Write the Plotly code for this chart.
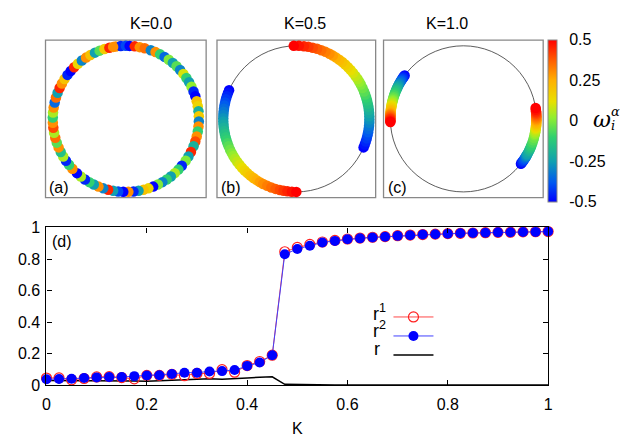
import plotly.graph_objects as go

# ---------------- data ----------------
K = [0.0, 0.025, 0.05, 0.075, 0.1, 0.125, 0.15, 0.175, 0.2, 0.225, 0.25, 0.275, 0.3, 0.325,
     0.35, 0.375, 0.4, 0.425, 0.45, 0.475, 0.5, 0.525, 0.55, 0.575, 0.6, 0.625, 0.65, 0.675,
     0.7, 0.725, 0.75, 0.775, 0.8, 0.825, 0.85, 0.875, 0.9, 0.925, 0.95, 0.975, 1.0]
r1 = [0.045, 0.046, 0.034, 0.042, 0.052, 0.054, 0.048, 0.040, 0.062, 0.062, 0.068, 0.060, 0.074,
      0.074, 0.098, 0.082, 0.124, 0.150, 0.190, 0.846, 0.874, 0.893, 0.908, 0.918, 0.927, 0.933,
      0.938, 0.942, 0.948, 0.952, 0.955, 0.958, 0.961, 0.963, 0.965, 0.967, 0.969, 0.970, 0.972,
      0.973, 0.974]
r2 = [0.037, 0.039, 0.041, 0.045, 0.049, 0.051, 0.051, 0.057, 0.061, 0.063, 0.071, 0.079, 0.079,
      0.087, 0.089, 0.096, 0.122, 0.144, 0.189, 0.830, 0.864, 0.884, 0.905, 0.915, 0.925, 0.931,
      0.937, 0.941, 0.947, 0.951, 0.955, 0.957, 0.961, 0.963, 0.965, 0.967, 0.969, 0.970, 0.971,
      0.972, 0.974]
r_tot = [0.030, 0.030, 0.030, 0.030, 0.030, 0.029, 0.028, 0.026, 0.024, 0.028, 0.032, 0.035, 0.038,
         0.040, 0.038, 0.040, 0.045, 0.050, 0.053, 0.005, 0.003, 0.002, 0.002, 0.001, 0.001, 0.001,
         0.001, 0.001, 0.001, 0.001, 0.001, 0.001, 0.001, 0.001, 0.001, 0.001, 0.001, 0.001, 0.001,
         0.001, 0.001]

# panel (a): K=0.0, phases (deg) and natural frequencies
phase_a = [98, 94, 90, 87, 83, 79, 75, 70, 66, 62, 58, 54, 50, 46, 42, 38, 34, 30, 26, 22, 18, 14,
           10, 6, 2, -2, -6, -10, -14, -18, -22, -27, -31, -35, -40, -44, -48, -52, -56, -60, -64,
           -68, -72, -76, -80, -84, -88, -92, -96, -100, -104, -108, -112, -116, -120, -124, -128,
           -132, -137, -141, -145, -149, -153, -157, -161, -165, -169, -173, -177, 179, 175, 171,
           167, 163, 159, 155, 151, 147, 143, 139, 135, 131, 127, 123, 119, 115, 111, 107, 103, 100]
omega_a = [0.3, -0.45, -0.4, -0.5, 0.45, 0.3, 0.35, -0.3, 0.3, -0.1, -0.35, 0.0, -0.25, -0.05, -0.3,
           0.1, -0.1, -0.25, 0.02, -0.45, -0.5, 0.2, 0.15, -0.2, 0.18, -0.3, 0.3, -0.1, 0.3, 0.4,
           -0.2, 0.45, -0.25, 0.0, -0.45, -0.1, 0.05, -0.25, -0.1, -0.3, 0.0, -0.5, 0.15, 0.2, -0.25,
           -0.45, 0.3, -0.5, -0.4, -0.25, 0.45, -0.3, 0.3, -0.25, -0.1, -0.45, 0.05, -0.5, 0.3, -0.1,
           -0.45, 0.05, -0.15, 0.3, -0.05, 0.35, 0.05, 0.4, 0.3, -0.1, 0.05, 0.3, -0.35, 0.35, -0.25,
           0.45, 0.3, 0.2, -0.45, -0.5, 0.45, 0.15, -0.3, 0.3, 0.2, -0.25, -0.05, 0.18, 0.45, 0.3]

# panels (b), (c): locked populations (natural frequency -> phase on circle, deg)
omega_lock = [-0.5, -0.475, -0.45, -0.425, -0.4, -0.375, -0.35, -0.325, -0.3, -0.275, -0.25,
              -0.225, -0.2, -0.175, -0.15, -0.125, -0.1, -0.075, -0.05, -0.025, 0.0, 0.025, 0.05,
              0.075, 0.1, 0.125, 0.15, 0.175, 0.2, 0.225, 0.25, 0.275, 0.3, 0.325, 0.35, 0.375,
              0.4, 0.425, 0.45, 0.475, 0.5]
phase_b1 = [-23, -20.5, -18, -15.5, -13, -10.5, -8, -5.5, -3, -0.5, 2, 4.5, 7, 9.5, 12, 14.5, 17,
            19.5, 22, 25, 28, 30.5, 33, 36, 39, 42, 45, 48, 51, 54, 57, 60, 63, 66.5, 70, 73.5, 77,
            80.5, 84, 88, 92]
phase_b2 = [157, 159.5, 162, 164.5, 167, 169.5, 172, 174.5, 177, 179.5, 182, 184.5, 187, 189.5,
            192, 194.5, 197, 199.5, 202, 205, 208, 210.5, 213, 216, 219, 222, 225, 228, 231, 234,
            237, 240, 243, 246.5, 250, 253.5, 257, 260, 263, 266.5, 270]
phase_c1 = [-38, -37, -36, -35, -34, -33, -32, -31.2, -30.5, -29.8, -29, -27.5, -26, -24.8, -23.5,
            -22.2, -21, -19, -17, -15, -13, -11.8, -10.5, -9.2, -8, -7, -6, -5, -4, -3, -2, -1, 0,
            1, 2, 3, 4, 5, 6, 7.2, 8.5]
phase_c2 = [143.5, 144.5, 145.5, 146.5, 147.5, 148.5, 149.5, 150.5, 151.5, 152.5, 153.5, 154.5,
            155.5, 156.5, 157.5, 158.8, 160, 161.2, 162.5, 163.8, 165, 166, 167, 168, 169, 170,
            171, 172, 173, 174, 175, 175.8, 176.5, 177.2, 178, 178.8, 179.5, 180.2, 181, 181.8,
            182.5]

cbar_ticks = [-0.5, -0.25, 0, 0.25, 0.5]
cbar_text = ["-0.5", "-0.25", "0", "0.25", "0.5"]
panel_titles = ["K=0.0", "K=0.5", "K=1.0"]

# ---------------- styling ----------------
# the page body has an 8px margin, so the figure is drawn 8px smaller and all
# positions below are given in screen pixels of the 629x447 window.
OFF = 8
W, H = 629 - OFF, 447 - OFF
FONT = "Liberation Sans, Arial, sans-serif"


def fx(p):
    return (p - OFF) / W


def fy(p):
    return 1 - (p - OFF) / H


cscale = [[0.0, '#0000ff'], [0.12, '#0058f0'], [0.25, '#10a0b0'], [0.4, '#30d070'],
          [0.52, '#90ee30'], [0.62, '#e8e000'], [0.75, '#ffb000'], [0.87, '#ff6000'],
          [1.0, '#ff0000']]

fig = go.Figure()

MS = 10.5


def add_pop(theta, omega, subplot, showscale=False):
    marker = dict(color=omega, colorscale=cscale, cmin=-0.5, cmax=0.5, size=MS,
                  line=dict(width=0), showscale=showscale)
    if showscale:
        marker["colorbar"] = dict(
            x=fx(552), xanchor="left", xpad=0, ypad=0,
            y=fy(117), yanchor="middle", len=162, lenmode="pixels",
            thickness=9, outlinewidth=1, outlinecolor="#888888",
            tickvals=cbar_ticks, ticktext=cbar_text, ticks="outside", ticklen=9,
            tickcolor="rgba(0,0,0,0)", tickfont=dict(size=16, family=FONT, color="black"))
    fig.add_trace(go.Scatterpolar(r=[1] * len(theta), theta=theta, mode="markers",
                                  marker=marker, subplot=subplot, showlegend=False,
                                  cliponaxis=False, hoverinfo="skip"))


add_pop(phase_a, omega_a, "polar")
add_pop(phase_b1, omega_lock, "polar2")
add_pop(phase_b2, omega_lock, "polar2")
add_pop(phase_c1, omega_lock, "polar3")
add_pop(phase_c2, omega_lock, "polar3", showscale=True)

# bottom panel
fig.add_trace(go.Scatter(x=K, y=r_tot, mode="lines", name=" ",
                         line=dict(color="black", width=1.5), legendrank=3, cliponaxis=False))
fig.add_trace(go.Scatter(x=K, y=r1, mode="lines+markers", name=" ",
                         line=dict(color="#ff4848", width=1),
                         marker=dict(symbol="circle-open", size=10, color="#ff2020",
                                     line=dict(width=1.2, color="#ff2020")),
                         legendrank=1, cliponaxis=False))
fig.add_trace(go.Scatter(x=K, y=r2, mode="lines+markers", name=" ",
                         line=dict(color="#4040ff", width=1),
                         marker=dict(symbol="circle", size=10, color="#0000ff"),
                         legendrank=2, cliponaxis=False))

polar_common = dict(
    bgcolor="rgba(0,0,0,0)",
    radialaxis=dict(visible=False, range=[0, 1]),
    angularaxis=dict(showline=True, linecolor="#333333", linewidth=0.8, showgrid=False,
                     showticklabels=False, ticks="", layer="below traces"),
)
cy0, cy1 = fy(115 + 76), fy(115 - 76)
fig.update_layout(
    polar=dict(domain=dict(x=[fx(123.5 - 76), fx(123.5 + 76)], y=[cy0, cy1]), **polar_common),
    polar2=dict(domain=dict(x=[fx(296.5 - 76), fx(296.5 + 76)], y=[cy0, cy1]), **polar_common),
    polar3=dict(domain=dict(x=[fx(466 - 76), fx(466 + 76)], y=[cy0, cy1]), **polar_common),
)

axis_common = dict(showline=True, mirror="ticks", linecolor="black", linewidth=1.3,
                   ticks="inside", ticklen=5, tickcolor="black", showgrid=False,
                   zeroline=False, tickfont=dict(size=16, family=FONT, color="black"))
fig.update_layout(
    width=W, height=H, margin=dict(l=0, r=0, t=0, b=0),
    paper_bgcolor="white", plot_bgcolor="white",
    font=dict(family=FONT, color="black"),
    xaxis=dict(domain=[fx(43), fx(552)], range=[0, 1], dtick=0.2, anchor="y",
               ticklabelstandoff=5,
               title=dict(text="K", font=dict(size=16, family=FONT), standoff=10),
               **axis_common),
    yaxis=dict(domain=[fy(392), fy(228)], range=[0, 1], dtick=0.2, anchor="x",
               ticklabelstandoff=2, **axis_common),
    showlegend=True,
    legend=dict(x=fx(390), y=fy(306), xanchor="left", yanchor="top",
                bgcolor="rgba(0,0,0,0)", font=dict(size=12), itemwidth=40,
                traceorder="normal"),
)

# boxes around top panels
for x0, x1 in [(42, 205), (216, 377), (385, 547)]:
    fig.add_shape(type="rect", xref="paper", yref="paper", x0=fx(x0), x1=fx(x1),
                  y0=fy(197), y1=fy(33), line=dict(color="#888888", width=1.3),
                  fillcolor="rgba(0,0,0,0)", layer="below")

# titles and labels
for t, cx in zip(panel_titles, [126, 305, 473]):
    fig.add_annotation(x=fx(cx), y=fy(16), xref="paper", yref="paper", text=t,
                       showarrow=False, yanchor="middle", font=dict(size=16, family=FONT))
for lab, x, y in [("(a)", 44, 186), ("(b)", 218, 186), ("(c)", 387, 186), ("(d)", 47, 243)]:
    fig.add_annotation(x=fx(x), y=fy(y), xref="paper", yref="paper", text=lab,
                       showarrow=False, xanchor="left", yanchor="middle",
                       font=dict(size=16, family=FONT))

# colorbar label  omega_i^alpha (stacked sub/superscript)
fig.add_annotation(x=fx(596), y=fy(116), xref="paper", yref="paper", text="<i>ω</i>",
                   showarrow=False, xanchor="left", yanchor="middle",
                   font=dict(size=22, family="DejaVu Serif"))
fig.add_annotation(x=fx(614), y=fy(107), xref="paper", yref="paper", text="<i>α</i>",
                   showarrow=False, xanchor="left", yanchor="middle",
                   font=dict(size=13, family="DejaVu Serif"))
fig.add_annotation(x=fx(614), y=fy(122), xref="paper", yref="paper", text="<i>i</i>",
                   showarrow=False, xanchor="left", yanchor="middle",
                   font=dict(size=13, family="DejaVu Serif"))

# legend labels (drawn to the left of the samples)
for lab, x, y in [("r<sup>1</sup>", 390, 316), ("r<sup>2</sup>", 390, 334), ("r", 383, 354)]:
    fig.add_annotation(x=fx(x), y=fy(y), xref="paper", yref="paper", text=lab,
                       showarrow=False, xanchor="right", yanchor="middle",
                       font=dict(size=18, family=FONT))

fig.write_html("out.html")
